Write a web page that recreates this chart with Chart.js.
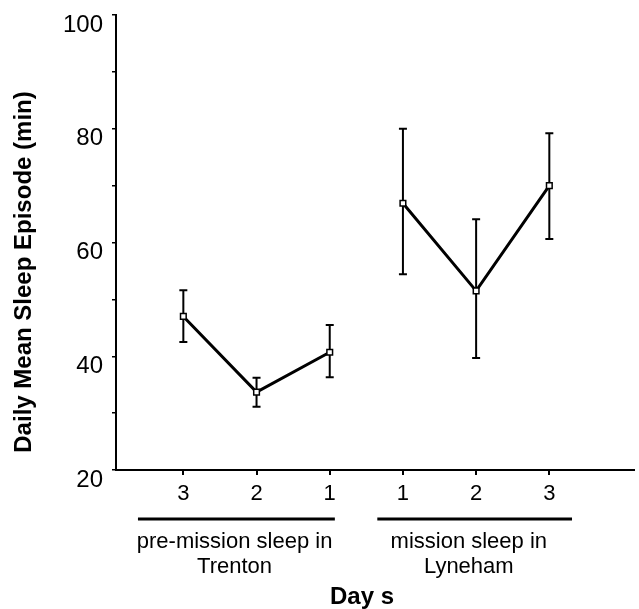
<!DOCTYPE html>
<html>
<head>
<meta charset="utf-8">
<script src="https://cdn.jsdelivr.net/npm/chart.js@4"></script>
<style>
  body { margin: 0; background: #fff; }
</style>
</head>
<body>
<canvas id="sleepChart" width="639" height="609"></canvas>
<script>
const dayLabels = ["3", "2", "1", "1", "2", "3"];
const yTicks = [20, 40, 60, 80, 100];

// pre-mission (Trenton), days 3,2,1
const preMeans = [47, 33.7, 40.7];
const preLow = [42.5, 31.1, 36.3];
const preHigh = [51.6, 36.2, 45.5];

// mission (Lyneham), days 1,2,3
const missionMeans = [66.9, 51.5, 70];
const missionLow = [54.4, 39.7, 60.6];
const missionHigh = [80, 64.1, 79.2];

const groupNames = [
  ["pre-mission sleep in", "Trenton"],
  ["mission sleep in", "Lyneham"],
];

const FONT = "'Liberation Sans', Arial, Helvetica, sans-serif";

const toPoints = (means, start) => means.map((v, i) => ({ x: start + i, y: v }));

const errorBars = {
  id: "errorBars",
  beforeDatasetsDraw(chart) {
    const { ctx, scales } = chart;
    const groups = [
      { low: preLow, high: preHigh, start: 0 },
      { low: missionLow, high: missionHigh, start: 3 },
    ];
    ctx.save();
    ctx.strokeStyle = "#000";
    ctx.lineWidth = 2;
    groups.forEach((g) => {
      g.low.forEach((lo, i) => {
        const px = scales.x.getPixelForValue(g.start + i);
        const top = scales.y.getPixelForValue(g.high[i]);
        const bot = scales.y.getPixelForValue(lo);
        ctx.beginPath();
        ctx.moveTo(px, top);
        ctx.lineTo(px, bot);
        ctx.moveTo(px - 4, top);
        ctx.lineTo(px + 4, top);
        ctx.moveTo(px - 4, bot);
        ctx.lineTo(px + 4, bot);
        ctx.stroke();
      });
    });
    ctx.restore();
  },
};

const annotations = {
  id: "annotations",
  afterDraw(chart) {
    const { ctx, scales } = chart;
    const x = scales.x;
    ctx.save();
    ctx.fillStyle = "#000";
    ctx.strokeStyle = "#000";

    // group underlines
    ctx.lineWidth = 3;
    const spans = [[-0.62, 2.07], [2.65, 5.31]];
    spans.forEach(([a, b]) => {
      ctx.beginPath();
      ctx.moveTo(x.getPixelForValue(a), 519);
      ctx.lineTo(x.getPixelForValue(b), 519);
      ctx.stroke();
    });

    // group names
    ctx.font = "22px " + FONT;
    ctx.textAlign = "center";
    ctx.textBaseline = "middle";
    const centers = [0.7, 3.9];
    groupNames.forEach((lines, g) => {
      const cx = x.getPixelForValue(centers[g]);
      lines.forEach((t, j) => ctx.fillText(t, cx, 542 + j * 25));
    });

    // x title
    ctx.font = "bold 24px " + FONT;
    ctx.fillText("Day s", 362, 597);

    // y title
    ctx.translate(24, 272);
    ctx.rotate(-Math.PI / 2);
    ctx.fillText("Daily Mean Sleep Episode (min)", 0, 0);
    ctx.restore();
  },
};

new Chart(document.getElementById("sleepChart"), {
  type: "line",
  data: {
    datasets: [
      { label: "pre-mission", data: toPoints(preMeans, 0) },
      { label: "mission", data: toPoints(missionMeans, 3) },
    ],
  },
  options: {
    responsive: false,
    animation: false,
    layout: { padding: { top: 15, right: 0, left: 0, bottom: 0 } },
    elements: {
      line: { borderColor: "#000", borderWidth: 3, tension: 0 },
      point: {
        pointStyle: "rect",
        radius: 4,
        borderWidth: 1.5,
        borderColor: "#000",
        backgroundColor: "#fff",
      },
    },
    plugins: {
      legend: { display: false },
      tooltip: { enabled: false },
    },
    scales: {
      x: {
        type: "linear",
        min: -0.92,
        max: 6.15,
        afterBuildTicks: (scale) => {
          scale.ticks = dayLabels.map((_, i) => ({ value: i }));
        },
        afterFit: (scale) => {
          scale.height = 139;
          scale.paddingLeft = 0;
          scale.paddingRight = 0;
        },
        ticks: {
          color: "#000",
          font: { family: FONT, size: 22 },
          padding: 6,
          callback: (v) => dayLabels[v],
        },
        grid: { drawOnChartArea: false, tickLength: 5, color: "#000", lineWidth: 2 },
        border: { color: "#000", width: 2 },
      },
      y: {
        min: 20,
        max: 100,
        afterBuildTicks: (scale) => {
          const t = [];
          for (let v = 20; v <= 100; v += 10) t.push({ value: v });
          scale.ticks = t;
        },
        afterFit: (scale) => {
          scale.width = 116;
          scale.paddingTop = 0;
          scale.paddingBottom = 0;
        },
        ticks: {
          color: "#000",
          font: { family: FONT, size: 24 },
          padding: 9,
          labelOffset: 10,
          autoSkip: false,
          callback: (v) => (yTicks.includes(v) ? v : ""),
        },
        grid: { drawOnChartArea: false, tickLength: 4, color: "#000", lineWidth: 1.5 },
        border: { color: "#000", width: 2 },
      },
    },
  },
  plugins: [errorBars, annotations],
});
</script>
</body>
</html>
